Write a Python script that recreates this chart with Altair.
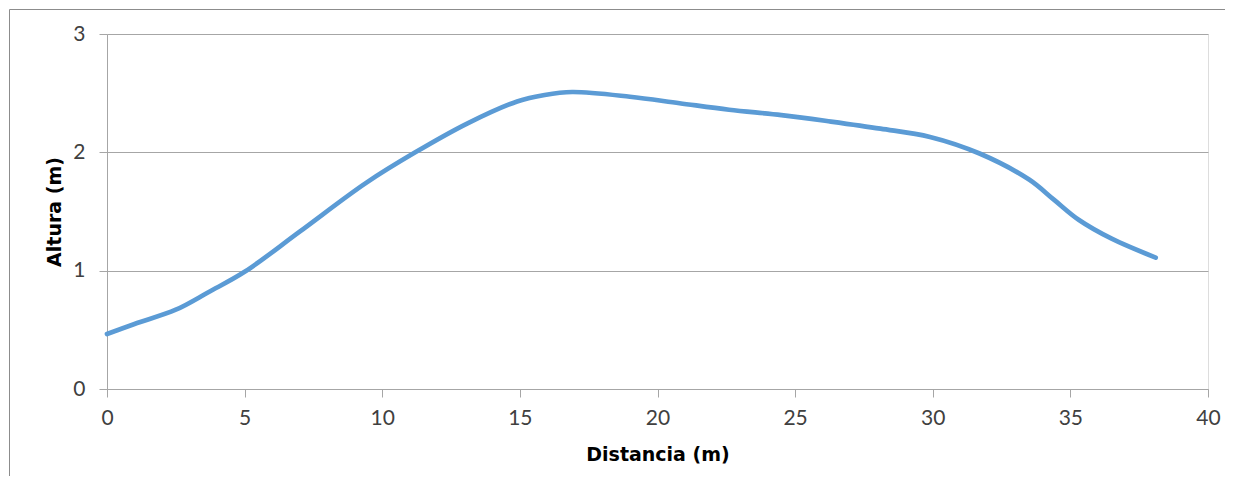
import altair as alt
import pandas as pd

distancia = [0, 1, 2.5, 3.7, 5, 7, 9.4, 11.2, 13.1, 14.9, 15.9, 16.9, 19, 20.8,
             22.6, 24.5, 26.3, 28.1, 29.9, 31.7, 33.5, 34.4, 35.3, 36.5, 38.1]
altura = [0.465, 0.55, 0.67, 0.82, 0.99, 1.33, 1.74, 2.0, 2.245, 2.43, 2.485, 2.51,
          2.47, 2.415, 2.36, 2.315, 2.26, 2.2, 2.13, 1.99, 1.77, 1.6, 1.43, 1.27, 1.11]
x_ticks = [0, 5, 10, 15, 20, 25, 30, 35, 40]
y_ticks = [0, 1, 2, 3]

df = pd.DataFrame({"Distancia": distancia, "Altura": altura})

FONT = "Lato"
TFONT = "DejaVu Sans"
GRAY = "#a6a6a6"
LABEL = "#404040"

line = alt.Chart(df).mark_line(
    color="#5b9bd5", strokeWidth=4.7, interpolate="catmull-rom", strokeCap="round"
).encode(
    x=alt.X("Distancia:Q",
            scale=alt.Scale(domain=[0, 40], nice=False, zero=False),
            axis=alt.Axis(values=x_ticks, title="Distancia (m)", grid=False,
                          domainColor=GRAY, tickColor=GRAY, tickSize=8,
                          labelFont=FONT, labelFontSize=21, labelColor=LABEL,
                          labelBaseline="middle", labelPadding=21, labelFlush=False,
                          titleFont=TFONT, titleFontSize=19, titleFontWeight="bold",
                          titleColor="#000000", titleY=65, titleBaseline="middle")),
    y=alt.Y("Altura:Q",
            scale=alt.Scale(domain=[0, 3], nice=False),
            axis=alt.Axis(values=y_ticks, title="Altura (m)", grid=True,
                          gridColor=GRAY, gridWidth=1,
                          domainColor=GRAY, tickColor=GRAY, tickSize=8,
                          labelFont=FONT, labelFontSize=21, labelColor=LABEL,
                          labelPadding=14, labelBaseline="middle", labelFlush=False,
                          titleFont=TFONT, titleFontSize=19, titleFontWeight="bold",
                          titleColor="#000000", titleAngle=270, titleX=-53,
                          titleY=177.5, titleAlign="center", titleBaseline="middle")),
)

frame = alt.Chart(alt.Data(values=[{}])).mark_rect(
    filled=False, stroke="#8c8c8c", strokeWidth=1, clip=False
).encode(
    x=alt.value(-97.5), x2=alt.value(1150),
    y=alt.value(-24.5), y2=alt.value(520)
)

chart = alt.layer(frame, line).properties(
    width=1101, height=355,
    padding={"left": 99, "top": 26, "right": 17, "bottom": 87},
    autosize=alt.AutoSizeParams(type="none"),
).configure_view(stroke=None).configure(background="white")

chart.save("out.html", embed_options={"renderer": "svg", "actions": False})
